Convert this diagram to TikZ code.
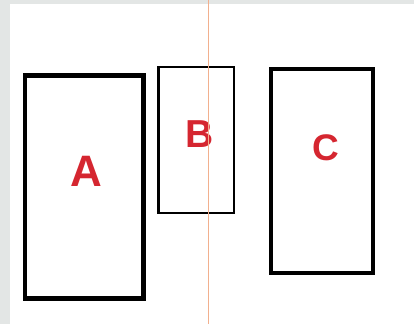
\documentclass[tikz,border=0pt]{standalone}
\usepackage{fontspec}
\setmainfont{Liberation Sans}
\usepackage{xcolor}
\usepackage{tikz}

\definecolor{pagegray}{HTML}{E3E6E5}
\definecolor{lettred}{HTML}{D52630}
\definecolor{guideorange}{HTML}{F2B08E}

\tikzset{
  box/.style={draw=black,fill=none},
  lett/.style={text=lettred,font=\bfseries,inner sep=0pt,anchor=center}
}

\begin{document}
\begin{tikzpicture}[x=1pt,y=-1pt,line join=miter]
  \useasboundingbox (0,0) rectangle (414,324);
  \fill[pagegray] (0,0) rectangle (414,4);
  \fill[pagegray] (0,0) rectangle (10,324);
  \draw[box,line width=4.5pt] (25,75.6) rectangle (143.7,298.4);
  \draw[box,line width=2.4pt] (158.5,67.2) rectangle (234,212.8);
  \draw[box,line width=4pt] (271.3,68.7) rectangle (373.3,272.7);
  \node[lett,font=\bfseries\fontsize{44}{44}\selectfont] (A) at (86.7,171.7) {A};
  \node[lett,font=\bfseries\fontsize{39}{39}\selectfont] (B) at (200,134) {B};
  \node[lett,font=\bfseries\fontsize{37}{37}\selectfont] (C) at (325.7,147.3) {C};
  \draw[guideorange,line width=0.9pt] (208.3,0) -- (208.3,324);
\end{tikzpicture}
\end{document}
